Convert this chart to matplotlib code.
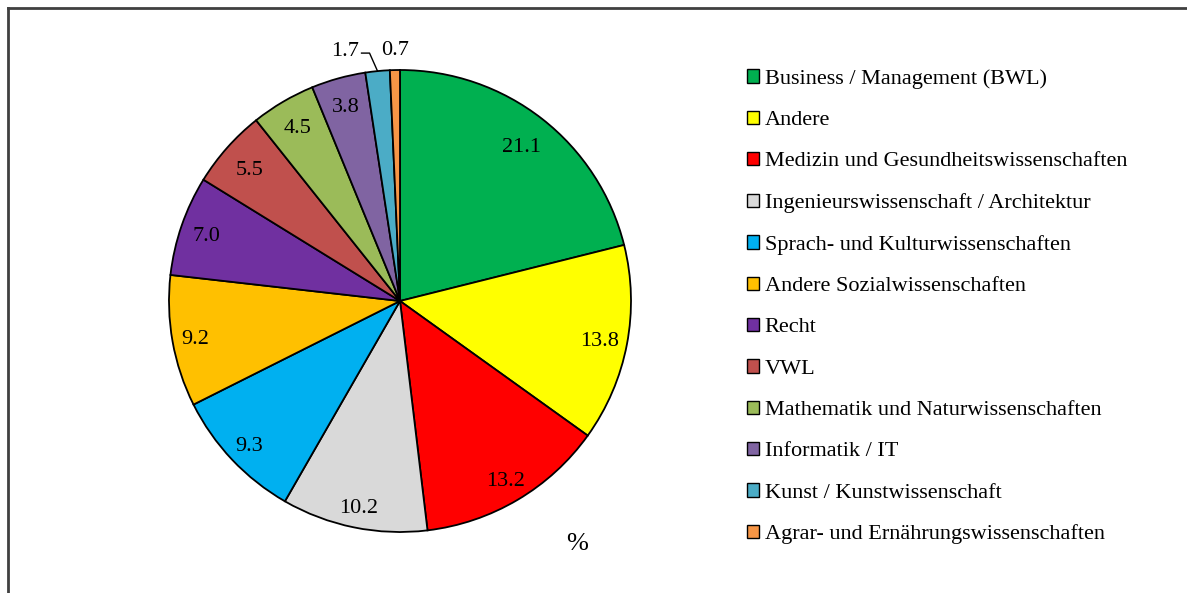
import matplotlib
matplotlib.use("Agg")
import matplotlib.pyplot as plt
from matplotlib.patches import Rectangle
from matplotlib.lines import Line2D
import numpy as np

categories = [
    "Business / Management (BWL)",
    "Andere",
    "Medizin und Gesundheitswissenschaften",
    "Ingenieurswissenschaft / Architektur",
    "Sprach- und Kulturwissenschaften",
    "Andere Sozialwissenschaften",
    "Recht",
    "VWL",
    "Mathematik und Naturwissenschaften",
    "Informatik / IT",
    "Kunst / Kunstwissenschaft",
    "Agrar- und Ernährungswissenschaften",
]
values = [21.1, 13.8, 13.2, 10.2, 9.3, 9.2, 7.0, 5.5, 4.5, 3.8, 1.7, 0.7]
colors = ["#00B050", "#FFFF00", "#FF0000", "#D9D9D9", "#00B0F0", "#FFC000",
          "#7030A0", "#C0504D", "#9BBB59", "#8064A2", "#4BACC6", "#F79646"]
unit_label = "%"

plt.rcParams['font.family'] = ['Liberation Serif', 'DejaVu Serif']

W, H = 1187, 593
fig = plt.figure(figsize=(W / 100, H / 100), dpi=100)
fig.patch.set_facecolor("white")

cx, cy, R = 400, 301, 231
ax = fig.add_axes([(cx - R) / W, (H - cy - R) / H, 2 * R / W, 2 * R / H])
wedges, _ = ax.pie(values, colors=colors, startangle=90, counterclock=False,
                   radius=1.0, wedgeprops=dict(edgecolor="black", linewidth=1.3))
ax.set_xlim(-1, 1)
ax.set_ylim(-1, 1)
ax.set_aspect("equal")
ax.axis("off")

FS = 16
LFS = 16
# inside label radial distances (fraction of radius)
label_r = [0.855, 0.88, 0.894, 0.905, 0.90, 0.90, 0.885, 0.87, 0.88, 0.88]
for i, w in enumerate(wedges):
    mid = np.deg2rad((w.theta1 + w.theta2) / 2)
    if i < len(label_r):
        r = label_r[i]
        ax.text(r * np.cos(mid), r * np.sin(mid), f"{values[i]:.1f}",
                ha="center", va="center_baseline", fontsize=FS)

# outside labels for the two smallest slices
w17 = wedges[10]
mid = np.deg2rad((w17.theta1 + w17.theta2) / 2)
ex, ey = np.cos(mid), np.sin(mid)
ax.plot([ex, ex - 8 / R, ex - 16 / R], [ey, ey + 18 / R, ey + 18 / R],
        color="black", lw=1.0, clip_on=False)
ax.text(ex - 32 / R, ey + 22 / R, f"{values[10]:.1f}", ha="center",
        va="center_baseline", fontsize=FS, clip_on=False)
w07 = wedges[11]
mid = np.deg2rad((w07.theta1 + w07.theta2) / 2)
ax.text(np.cos(mid), np.sin(mid) + 22 / R, f"{values[11]:.1f}", ha="center",
        va="center_baseline", fontsize=FS, clip_on=False)

fig.text(577 / W, 1 - 541 / H, unit_label, ha="center", va="center_baseline",
         fontsize=19)

handles = [Rectangle((0, 0), 1, 1, facecolor=c, edgecolor="black", linewidth=1.0)
           for c in colors]
leg = fig.legend(handles, categories, loc="upper left",
                 bbox_to_anchor=(747 / W, 1 - 69 / H), frameon=False,
                 fontsize=LFS, handlelength=0.55, handleheight=0.55,
                 handletextpad=0.25, labelspacing=0.98, borderaxespad=0,
                 borderpad=0)

# partial chart-area frame (top and left edges)
fig.add_artist(Line2D([8 / W, 1.0], [1 - 8 / H, 1 - 8 / H], color="#404040", lw=2.0,
                      transform=fig.transFigure))
fig.add_artist(Line2D([8 / W, 8 / W], [1 - 8 / H, 0.0], color="#404040", lw=2.0,
                      transform=fig.transFigure))

fig.savefig("out.png", dpi=100)
